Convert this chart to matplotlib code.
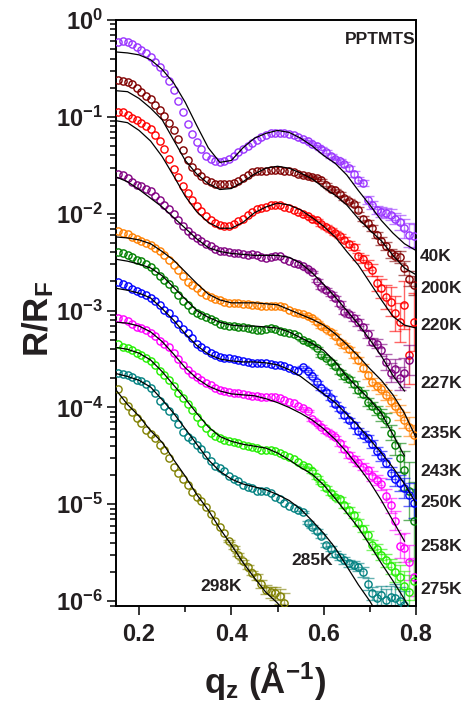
import matplotlib
matplotlib.use('Agg')
import matplotlib.pyplot as plt
from matplotlib.ticker import NullFormatter, LogLocator
import numpy as np

plt.rcParams['font.family'] = ['Liberation Sans', 'DejaVu Sans']
plt.rcParams['font.weight'] = 'bold'
plt.rcParams['axes.labelweight'] = 'bold'
plt.rcParams['mathtext.fontset'] = 'custom'
plt.rcParams['mathtext.rm'] = 'Liberation Sans:bold'
plt.rcParams['mathtext.bf'] = 'Liberation Sans:bold'
plt.rcParams['mathtext.it'] = 'Liberation Sans:bold'
plt.rcParams['mathtext.default'] = 'bf'

# q grid for the fits and for the measured points
Q_FIT = [0.150, 0.175, 0.200, 0.225, 0.250, 0.275, 0.300, 0.325, 0.350, 0.375,
         0.400, 0.425, 0.450, 0.475, 0.500, 0.525, 0.550, 0.575, 0.600, 0.625,
         0.650, 0.675, 0.700, 0.725, 0.750, 0.775, 0.800]
Q_DATA = [0.155, 0.165, 0.175, 0.185, 0.195, 0.205, 0.215, 0.225, 0.235, 0.245,
          0.255, 0.265, 0.275, 0.285, 0.295, 0.305, 0.315, 0.325, 0.335, 0.345,
          0.355, 0.365, 0.375, 0.385, 0.395, 0.405, 0.415, 0.425, 0.435, 0.445,
          0.455, 0.465, 0.475, 0.485, 0.495, 0.505, 0.515, 0.525, 0.535, 0.545,
          0.555, 0.565, 0.575, 0.585, 0.595, 0.605, 0.615, 0.625, 0.635, 0.645,
          0.655, 0.665, 0.675, 0.685, 0.695, 0.705, 0.715, 0.725, 0.735, 0.745,
          0.755, 0.765, 0.775, 0.785, 0.795]

# log10(R/RF), curves already offset as in the figure
data_40k = [-0.23, -0.22, -0.23, -0.25, -0.28, -0.31, -0.34, -0.38, -0.43, -0.49,
            -0.55, -0.63, -0.72, -0.84, -0.95, -1.07, -1.18, -1.26, -1.33, -1.40,
            -1.44, -1.46, -1.47, -1.46, -1.43, -1.40, -1.36, -1.33, -1.30, -1.27,
            -1.24, -1.21, -1.19, -1.17, -1.17, -1.17, -1.17, -1.18, -1.19, -1.21,
            -1.23, -1.25, -1.28, -1.30, -1.33, -1.36, -1.40, -1.43, -1.46, -1.49,
            -1.53, -1.59, -1.65, -1.68, -1.86, -1.91, -1.96, -1.98, -1.99, -2.01,
            -2.05, -2.09, -2.15, -2.22, -2.23]
fit_40k = [-0.33, -0.34, -0.36, -0.41, -0.51, -0.65, -0.85, -1.09, -1.32, -1.47,
           -1.45, -1.32, -1.22, -1.17, -1.14, -1.16, -1.22, -1.30, -1.40, -1.48,
           -1.60, -1.76, -1.91, -2.07, -2.20, -2.31, -2.38]
err_40k = [0.01, 0.01, 0.01, 0.01, 0.015, 0.015, 0.02, 0.02, 0.02, 0.025, 0.025, 0.03, 0.03,
           0.03, 0.04, 0.04, 0.04, 0.05, 0.05, 0.06, 0.06, 0.08, 0.1, 0.12, 0.12]

data_200k = [-0.62, -0.63, -0.64, -0.66, -0.70, -0.74, -0.78, -0.82, -0.88, -0.93,
             -0.99, -1.06, -1.14, -1.23, -1.34, -1.45, -1.52, -1.57, -1.61, -1.65,
             -1.67, -1.69, -1.69, -1.69, -1.69, -1.68, -1.66, -1.63, -1.60, -1.57,
             -1.56, -1.56, -1.56, -1.55, -1.55, -1.55, -1.56, -1.56, -1.57, -1.59,
             -1.60, -1.61, -1.62, -1.63, -1.65, -1.70, -1.74, -1.76, -1.80, -1.84,
             -1.87, -1.90, -1.96, -2.05, -2.10, -2.15, -2.22, -2.28, -2.33, -2.41,
             -2.44, -2.45, -2.56, -2.67, -2.74]
fit_200k = [-0.73, -0.74, -0.81, -0.91, -1.03, -1.24, -1.45, -1.59, -1.69, -1.75,
            -1.74, -1.67, -1.59, -1.53, -1.51, -1.53, -1.58, -1.64, -1.73, -1.81,
            -1.91, -2.05, -2.17, -2.28, -2.43, -2.56, -2.63]
err_200k = [0.01, 0.01, 0.01, 0.01, 0.01, 0.015, 0.015, 0.015, 0.02, 0.02, 0.02, 0.025, 0.025,
            0.03, 0.03, 0.03, 0.035, 0.04, 0.04, 0.05, 0.05, 0.06, 0.07, 0.08, 0.1]

data_220k = [-0.95, -0.95, -0.98, -1.01, -1.03, -1.06, -1.09, -1.13, -1.19, -1.25,
             -1.33, -1.44, -1.54, -1.62, -1.71, -1.79, -1.86, -1.92, -1.97, -2.02,
             -2.07, -2.10, -2.12, -2.13, -2.13, -2.11, -2.08, -2.05, -2.01, -1.98,
             -1.95, -1.94, -1.93, -1.91, -1.91, -1.91, -1.93, -1.94, -1.96, -1.98,
             -2.00, -2.02, -2.05, -2.07, -2.11, -2.14, -2.17, -2.20, -2.23, -2.27,
             -2.31, -2.34, -2.44, -2.47, -2.53, -2.58, -2.72, -2.77, -2.86, -2.91,
             -3.03, -3.12, -2.94, -3.46, -3.12]
fit_220k = [-1.04, -1.06, -1.14, -1.25, -1.41, -1.61, -1.82, -1.98, -2.09, -2.15,
            -2.15, -2.09, -1.99, -1.93, -1.89, -1.91, -1.96, -2.04, -2.13, -2.24,
            -2.39, -2.53, -2.71, -2.89, -3.06, -3.15, -3.18]
err_220k = [0.01, 0.01, 0.015, 0.015, 0.015, 0.02, 0.02, 0.02, 0.025, 0.025, 0.03, 0.03, 0.035,
            0.04, 0.05, 0.06, 0.08, 0.1, 0.12, 0.15, 0.18, 0.2, 0.25, 0.3, 0.3]

data_227k = [-1.59, -1.60, -1.63, -1.67, -1.70, -1.71, -1.74, -1.77, -1.82, -1.86,
             -1.91, -1.95, -2.00, -2.07, -2.13, -2.18, -2.22, -2.25, -2.28, -2.31,
             -2.33, -2.36, -2.38, -2.39, -2.40, -2.41, -2.41, -2.42, -2.43, -2.42,
             -2.43, -2.45, -2.46, -2.45, -2.44, -2.44, -2.47, -2.49, -2.51, -2.52,
             -2.54, -2.57, -2.60, -2.69, -2.76, -2.79, -2.83, -2.87, -2.93, -3.01,
             -3.04, -3.08, -3.12, -3.17, -3.24, -3.32, -3.34, -3.41, -3.53, -3.64,
             -3.60, -3.70, -3.64, -3.51]
fit_227k = [-1.62, -1.67, -1.75, -1.84, -1.93, -2.04, -2.15, -2.26, -2.35, -2.39,
            -2.41, -2.42, -2.43, -2.43, -2.43, -2.45, -2.51, -2.61, -2.73, -2.86,
            -3.00, -3.14, -3.30, -3.47, -3.67, -3.83]
err_227k = [0.01, 0.01, 0.01, 0.015, 0.015, 0.02, 0.02, 0.02, 0.025, 0.025, 0.03, 0.03,
            0.035, 0.035, 0.04, 0.04, 0.05, 0.06, 0.08, 0.1, 0.1, 0.12, 0.15, 0.15]

data_235k = [-2.18, -2.20, -2.21, -2.24, -2.26, -2.28, -2.30, -2.32, -2.35, -2.39,
             -2.43, -2.48, -2.53, -2.58, -2.64, -2.71, -2.74, -2.77, -2.81, -2.84,
             -2.86, -2.88, -2.89, -2.91, -2.92, -2.92, -2.92, -2.93, -2.93, -2.94,
             -2.94, -2.95, -2.95, -2.95, -2.95, -2.95, -2.96, -2.99, -3.01, -3.03,
             -3.04, -3.06, -3.08, -3.12, -3.16, -3.19, -3.22, -3.26, -3.32, -3.36,
             -3.40, -3.46, -3.51, -3.59, -3.67, -3.74, -3.78, -3.81, -3.87, -3.93,
             -3.98, -4.05, -4.13, -4.20, -4.28]
fit_235k = [-2.24, -2.25, -2.27, -2.31, -2.39, -2.48, -2.60, -2.72, -2.83, -2.89,
            -2.92, -2.92, -2.92, -2.93, -2.94, -2.99, -3.04, -3.09, -3.15, -3.24,
            -3.35, -3.47, -3.60, -3.72, -3.87, -4.06, -4.31]
err_235k = [0.01, 0.01, 0.01, 0.015, 0.015, 0.015, 0.02, 0.02, 0.02, 0.025, 0.025, 0.03, 0.03,
            0.035, 0.04, 0.04, 0.045, 0.05, 0.05, 0.06, 0.07, 0.08, 0.08, 0.1, 0.1]

data_243k = [-2.40, -2.41, -2.43, -2.45, -2.48, -2.49, -2.52, -2.55, -2.59, -2.64,
             -2.68, -2.73, -2.78, -2.84, -2.90, -2.94, -2.99, -3.02, -3.05, -3.07,
             -3.09, -3.11, -3.14, -3.15, -3.16, -3.16, -3.17, -3.17, -3.18, -3.19,
             -3.20, -3.20, -3.19, -3.18, -3.19, -3.21, -3.22, -3.23, -3.24, -3.26,
             -3.30, -3.32, -3.35, -3.39, -3.46, -3.49, -3.53, -3.57, -3.63, -3.68,
             -3.71, -3.76, -3.82, -3.86, -3.94, -3.98, -4.03, -4.08, -4.13, -4.26,
             -4.39, -4.52, -4.65, -4.86, -5.17]
fit_243k = [-2.47, -2.49, -2.52, -2.56, -2.64, -2.76, -2.88, -3.00, -3.07, -3.12,
            -3.15, -3.16, -3.16, -3.17, -3.18, -3.22, -3.28, -3.34, -3.41, -3.53,
            -3.68, -3.80, -3.92, -4.06, -4.28, -4.50]
err_243k = [0.01, 0.01, 0.01, 0.01, 0.015, 0.015, 0.02, 0.02, 0.02, 0.025, 0.025, 0.03, 0.03,
            0.035, 0.04, 0.04, 0.05, 0.06, 0.07, 0.08, 0.1, 0.15, 0.2, 0.3, 0.4]

data_250k = [-2.71, -2.73, -2.75, -2.78, -2.80, -2.82, -2.84, -2.87, -2.90, -2.94,
             -2.99, -3.03, -3.09, -3.14, -3.19, -3.23, -3.28, -3.34, -3.38, -3.41,
             -3.44, -3.46, -3.48, -3.49, -3.49, -3.50, -3.51, -3.52, -3.53, -3.54,
             -3.54, -3.54, -3.54, -3.55, -3.56, -3.56, -3.57, -3.59, -3.61, -3.62,
             -3.58, -3.62, -3.68, -3.74, -3.80, -3.84, -3.90, -3.96, -4.02, -4.08,
             -4.13, -4.18, -4.24, -4.28, -4.32, -4.38, -4.45, -4.50, -4.57, -4.68,
             -4.74, -4.78, -4.83, -4.90, -4.99]
fit_250k = [-2.77, -2.79, -2.82, -2.87, -2.98, -3.10, -3.24, -3.36, -3.45, -3.50,
            -3.52, -3.53, -3.53, -3.54, -3.56, -3.61, -3.68, -3.77, -3.86, -3.95,
            -4.07, -4.19, -4.33, -4.47, -4.62, -4.79, -4.99]
err_250k = [0.01, 0.01, 0.01, 0.015, 0.015, 0.015, 0.02, 0.02, 0.02, 0.025, 0.025, 0.03, 0.03,
            0.035, 0.04, 0.04, 0.045, 0.05, 0.05, 0.06, 0.07, 0.08, 0.1, 0.12, 0.15]

data_258k = [-3.08, -3.09, -3.11, -3.14, -3.17, -3.18, -3.20, -3.23, -3.26, -3.31,
             -3.35, -3.38, -3.44, -3.50, -3.56, -3.61, -3.65, -3.69, -3.72, -3.75,
             -3.77, -3.80, -3.82, -3.83, -3.84, -3.85, -3.85, -3.86, -3.87, -3.88,
             -3.88, -3.89, -3.89, -3.89, -3.89, -3.90, -3.92, -3.94, -3.95, -3.98,
             -4.01, -4.04, -4.12, -4.16, -4.20, -4.24, -4.27, -4.31, -4.37, -4.43,
             -4.49, -4.53, -4.57, -4.61, -4.65, -4.71, -4.75, -4.79, -4.91, -5.01,
             -5.17, -5.43, -5.45, -5.60, -5.75]
fit_258k = [-3.12, -3.13, -3.16, -3.22, -3.32, -3.45, -3.59, -3.70, -3.78, -3.83,
            -3.86, -3.87, -3.88, -3.91, -3.95, -4.00, -4.06, -4.13, -4.22, -4.33,
            -4.46, -4.61, -4.77, -4.96, -5.17, -5.38]
err_258k = [0.01, 0.01, 0.015, 0.015, 0.015, 0.02, 0.02, 0.02, 0.025, 0.025, 0.03, 0.03, 0.035,
            0.04, 0.04, 0.05, 0.05, 0.06, 0.07, 0.08, 0.1, 0.12, 0.15, 0.18, 0.2]

data_275k = [-3.35, -3.38, -3.39, -3.41, -3.44, -3.46, -3.49, -3.52, -3.56, -3.62,
             -3.67, -3.72, -3.78, -3.85, -3.90, -3.96, -4.03, -4.10, -4.16, -4.21,
             -4.26, -4.30, -4.32, -4.34, -4.35, -4.36, -4.37, -4.39, -4.40, -4.41,
             -4.42, -4.44, -4.44, -4.44, -4.45, -4.47, -4.49, -4.51, -4.53, -4.56,
             -4.59, -4.62, -4.66, -4.72, -4.78, -4.83, -4.88, -4.92, -4.95, -5.01,
             -5.06, -5.11, -5.19, -5.25, -5.32, -5.42, -5.46, -5.52, -5.58, -5.64,
             -5.70, -5.75, -5.84, -5.91, -5.79]
fit_275k = [-3.38, -3.40, -3.44, -3.51, -3.63, -3.77, -3.91, -4.06, -4.20, -4.30,
            -4.35, -4.38, -4.40, -4.42, -4.47, -4.54, -4.62, -4.69, -4.80, -4.94,
            -5.09, -5.24, -5.42, -5.61, -5.79, -5.98, -6.20]
err_275k = [0.01, 0.01, 0.015, 0.015, 0.015, 0.02, 0.02, 0.02, 0.025, 0.025, 0.03, 0.03, 0.035,
            0.04, 0.04, 0.05, 0.05, 0.06, 0.07, 0.08, 0.1, 0.12, 0.15, 0.18, 0.2]

data_285k = [-3.64, -3.65, -3.67, -3.69, -3.72, -3.73, -3.76, -3.80, -3.85, -3.93,
             -3.99, -4.04, -4.10, -4.17, -4.25, -4.31, -4.34, -4.39, -4.43, -4.49,
             -4.55, -4.60, -4.63, -4.66, -4.71, -4.74, -4.76, -4.80, -4.82, -4.83,
             -4.86, -4.86, -4.86, -4.88, -4.92, -4.95, -4.99, -5.02, -5.04, -5.06,
             -5.08, -5.19, -5.23, -5.28, -5.33, -5.42, -5.46, -5.51, -5.54, -5.58,
             -5.61, -5.63, -5.65, -5.70, -5.82, -5.92, -5.97, -5.94, -5.99, -5.96,
             -5.97, -6.00, -6.04]
fit_285k = [-3.65, -3.68, -3.72, -3.79, -3.92, -4.06, -4.22, -4.38, -4.54, -4.66,
            -4.74, -4.79, -4.82, -4.85, -4.90, -4.96, -5.05, -5.17, -5.30, -5.45,
            -5.64, -5.83, -6.00, -6.20]
err_285k = [0.01, 0.015, 0.015, 0.02, 0.02, 0.025, 0.025, 0.03, 0.03, 0.035, 0.035, 0.04,
            0.04, 0.05, 0.06, 0.07, 0.08, 0.1, 0.12, 0.12, 0.15, 0.15, 0.15]

data_298k = [-3.81, -3.92, -3.98, -4.05, -4.11, -4.16, -4.23, -4.27, -4.32, -4.39,
             -4.44, -4.52, -4.61, -4.68, -4.74, -4.80, -4.87, -4.92, -4.97, -5.03,
             -5.10, -5.17, -5.23, -5.30, -5.38, -5.45, -5.52, -5.59, -5.65, -5.71,
             -5.75, -5.82, -5.88, -5.91, -5.92, -5.95, -6.02]
fit_298k = [-3.82, -3.97, -4.09, -4.24, -4.36, -4.54, -4.71, -4.90, -5.06, -5.25,
            -5.42, -5.60, -5.76, -5.91, -6.02, -6.17]
err_298k = [0.01, 0.015, 0.015, 0.02, 0.02, 0.025, 0.03, 0.04, 0.05, 0.06, 0.07, 0.08, 0.1]

labels = ['40K', '200K', '220K', '227K', '235K', '243K', '250K', '258K', '275K', '285K', '298K']
colors = ['#9933ff', '#800000', '#ff0000', '#800080', '#ff8000', '#008000',
          '#0000ff', '#ff00ff', '#22ee00', '#008080', '#808000']
datas = [data_40k, data_200k, data_220k, data_227k, data_235k, data_243k,
         data_250k, data_258k, data_275k, data_285k, data_298k]
fits = [fit_40k, fit_200k, fit_220k, fit_227k, fit_235k, fit_243k,
        fit_250k, fit_258k, fit_275k, fit_285k, fit_298k]
errs = [err_40k, err_200k, err_220k, err_227k, err_235k, err_243k,
        err_250k, err_258k, err_275k, err_285k, err_298k]

TXT = '#231f20'

fig = plt.figure(figsize=(4.72, 7.10), dpi=100)
ax = fig.add_axes([116 / 472, 104 / 710, 300 / 472, 586 / 710])

for lab, col, d, f, e in zip(labels, colors, datas, fits, errs):
    q = np.array(Q_DATA[:len(d)])
    r = 10.0 ** np.array(d)
    # error bars only on the high-q tail
    n = len(e)
    qt, rt, et = q[-n:], r[-n:], np.array(e)
    ax.errorbar(qt, rt, yerr=[rt - rt * 10.0 ** -et, rt * 10.0 ** et - rt], fmt='none',
                ecolor=col, elinewidth=1.0, capsize=4, capthick=1.0, alpha=0.6, zorder=2)
    ax.plot(q, r, 'o', ms=5.2, mfc='none', mec=col, mew=1.0, zorder=3)

for f in fits:
    ax.plot(Q_FIT[:len(f)], 10.0 ** np.array(f), color='black', lw=0.9, zorder=4)

ax.set_yscale('log')
ax.set_xlim(0.15, 0.8)
ax.set_ylim(10 ** -6.05, 1)

ax.set_xticks([0.2, 0.4, 0.6, 0.8], labels=['0.2', '0.4', '0.6', '0.8'])
ax.set_xticks([0.3, 0.5, 0.7], minor=True)
ax.set_yticks([10.0 ** k for k in range(-6, 1)],
              labels=[r'$\mathbf{10^{%d}}$' % k for k in range(-6, 1)])
ax.yaxis.set_minor_locator(LogLocator(base=10, subs=np.arange(2, 10)))
ax.yaxis.set_minor_formatter(NullFormatter())

ax.tick_params(which='both', direction='out', top=False, right=False,
               width=1.1, colors='black', labelcolor=TXT, labelsize=17)
ax.tick_params(which='major', length=6.5)
ax.tick_params(which='minor', length=4)
ax.tick_params(axis='x', pad=6)
ax.tick_params(axis='y', pad=3)
for s in ax.spines.values():
    s.set_linewidth(1.4)

ax.set_xlabel(r'q$_\mathbf{z}$ (Å$^{\mathbf{-1}}$)', fontsize=25, color=TXT, fontweight='bold')
ax.set_ylabel(r'R/R$_\mathbf{F}$', fontsize=25, color=TXT, fontweight='bold')
ax.xaxis.set_label_coords(0.497, -0.09)
ax.yaxis.set_label_coords(-0.2, 0.49)

# temperature labels
right_y = [0.597, 0.541, 0.478, 0.379, 0.295, 0.230, 0.177, 0.101, 0.029]
for lab, yy in zip(labels[:9], right_y):
    ax.text(1.013, yy, lab, transform=ax.transAxes, fontsize=12.5, color=TXT,
            ha='left', va='center', clip_on=False)
ax.text(0.583, 0.077, labels[9], transform=ax.transAxes, fontsize=12.5, color=TXT,
        ha='left', va='center')
ax.text(0.28, 0.034, labels[10], transform=ax.transAxes, fontsize=12.5, color=TXT,
        ha='left', va='center')
ax.text(0.997, 0.966, 'PPTMTS', transform=ax.transAxes, fontsize=12.5, color=TXT,
        ha='right', va='center')

fig.savefig('out.png', dpi=100)
